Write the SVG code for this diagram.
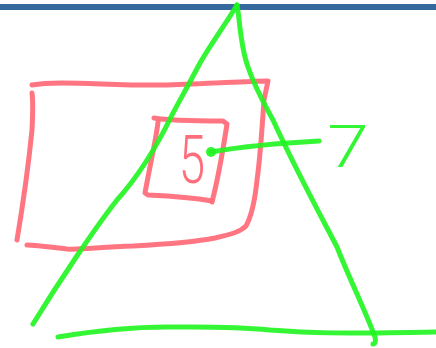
<svg xmlns="http://www.w3.org/2000/svg" width="436" height="348" viewBox="0 0 436 348">
<style>
.r{fill:none;stroke:#ff6f7b;stroke-width:5;stroke-linecap:round;stroke-linejoin:round;opacity:0.95}
.g{fill:none;stroke:#1ff51f;stroke-width:5;stroke-linecap:round;stroke-linejoin:round;opacity:0.9}
.t{font-family:Roboto, "Liberation Sans", sans-serif;font-weight:300;text-anchor:middle}
</style>
<rect x="0" y="4" width="436" height="6" fill="#35689c"/>
<g id="outer-rect">
<path class="r" d="M32,85 C60,80 110,86 167,85 C210,84 245,81 268,81 L264,100 C262,130 260,160 257,180 C255,200 252,215 246,226 C240,232 232,234 215,238 C195,242 170,244 133,246 C100,247 80,250 67,249 C50,247 35,245 27,245"/>
<path class="r" d="M32,93 C33,100 33,110 32,130 C28,170 22,210 17,240"/>
</g>
<g id="inner-rect">
<path class="r" d="M154,118 C165,120 190,121 223,121 L227,124 C223,150 219,175 212,202"/>
<path class="r" d="M158,122 C156,140 150,165 145,193 L148,195 C170,196 195,198 212,201"/>
<text class="t" x="192" y="183" font-size="66" fill="#ff6f7b" transform="translate(192,0) scale(0.72,1) translate(-192,0)">5</text>
</g>
<g id="triangle">
<path class="g" d="M237,5 C225,25 212,42 200,63 C190,82 180,100 172,115 C155,150 135,180 117,200 C95,228 60,280 33,324"/>
<path class="g" d="M237,5 C240,20 240,45 248,67 C255,88 265,105 273,120 C295,168 315,205 337,247 C350,280 365,310 375,337 C376,341 375,344 373,344"/>
<path class="g" d="M58,337 C100,330 135,327 167,327 C200,327 230,326 270,330 C310,333 333,334 436,332"/>
</g>
<g id="label-7">
<path class="g" d="M211,152 C240,147 280,143 319,141"/>
<circle cx="211" cy="152" r="5" fill="#1ff51f" opacity="0.9"/>
<text class="t" x="348" y="167" font-size="60" fill="#1ff51f" opacity="0.9" transform="translate(348,0) scale(1.25,1) translate(-348,0)">7</text>
</g>
</svg>
